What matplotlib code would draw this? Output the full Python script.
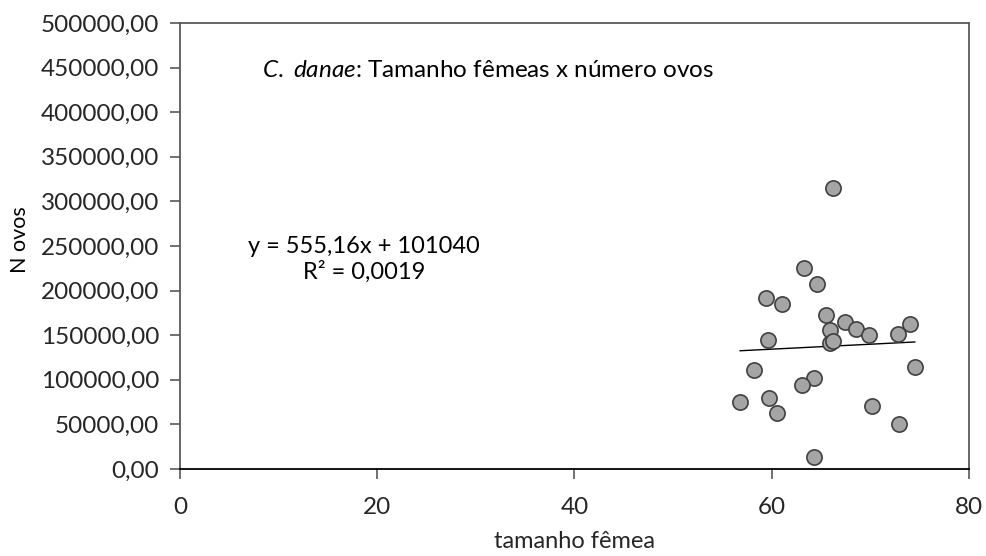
import matplotlib
matplotlib.use("Agg")
import matplotlib.pyplot as plt
from matplotlib.ticker import FuncFormatter
import numpy as np

plt.rcParams['font.family'] = ['Lato', 'DejaVu Sans']
plt.rcParams['mathtext.fontset'] = 'custom'
plt.rcParams['mathtext.it'] = 'Lato:italic'
plt.rcParams['mathtext.rm'] = 'Lato'

# tamanho das fêmeas e número de ovos
tamanho = [66.2, 63.3, 64.6, 59.4, 61.0, 65.5, 67.4, 68.5, 74.0, 65.9,
           69.9, 72.8, 59.6, 65.9, 66.2, 58.2, 74.5, 64.3, 63.1, 59.7,
           56.8, 60.5, 70.2, 72.9, 64.3]
n_ovos = [315200, 224900, 207600, 191600, 184500, 172900, 164300, 157200, 162800, 156100,
          150500, 151600, 144100, 141500, 143000, 110900, 114200, 102300, 94000, 79500,
          75400, 62300, 70900, 50700, 13300]

# linha de tendência
inclinacao = 555.16
intercepto = 101040
r2 = 0.0019

fig = plt.figure(figsize=(9.87, 5.56), dpi=100)
ax = fig.add_axes([180/987, 1 - 469/556, 789/987, 446/556])

ax.scatter(tamanho, n_ovos, s=120, facecolor='#a5a5a5', edgecolor='#404040',
           linewidth=1.2, zorder=3)

xs = np.array([min(tamanho), max(tamanho)])
ax.plot(xs, inclinacao * xs + intercepto, color='black', linewidth=1, zorder=2)

ax.set_xlim(0, 80)
ax.set_ylim(0, 500000)
ax.set_xticks([0, 20, 40, 60, 80])
ax.set_yticks(np.arange(0, 500001, 50000))
ax.yaxis.set_major_formatter(FuncFormatter(lambda v, p: f'{v:.2f}'.replace('.', ',')))

for s in ax.spines.values():
    s.set_color('#595959')
    s.set_linewidth(1.3)
ax.spines['bottom'].set_color('black')
ax.tick_params(axis='both', direction='out', length=7, width=1.2, color='#595959',
               labelsize=17.5, labelcolor='#262626')
ax.tick_params(axis='y', pad=8)
ax.tick_params(axis='x', pad=13)

fig.text(575/987, 1 - 541/556, 'tamanho fêmea', fontsize=17, color='#262626',
         ha='center', va='center')
fig.text(20/987, 1 - 240/556, 'N ovos', fontsize=15.5, color='black',
         ha='center', va='center', rotation=90)

ax.text(0.39, 0.894, r'$\it{C.\ danae}$: Tamanho fêmeas x número ovos', transform=ax.transAxes,
        ha='center', va='center', fontsize=17.5)
ax.text(0.233, 0.47, f'y = 555,16x + 101040\nR² = {r2:.4f}'.replace('.', ','),
        transform=ax.transAxes, ha='center', va='center', fontsize=17, linespacing=1.25)

fig.savefig('out.png', dpi=100)
